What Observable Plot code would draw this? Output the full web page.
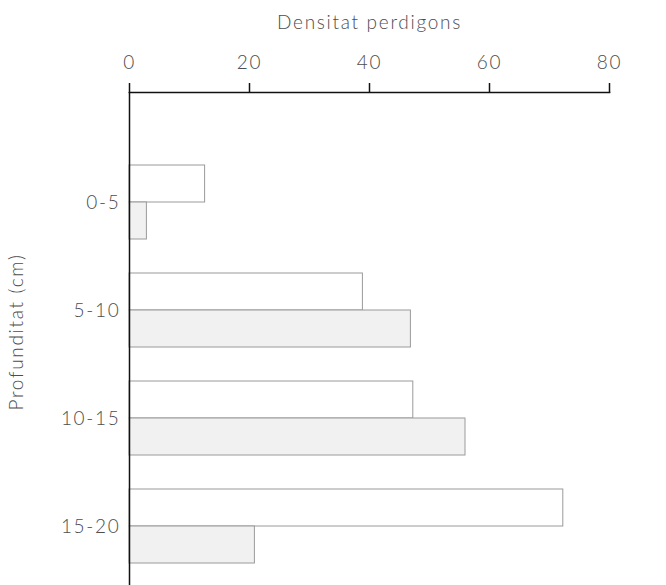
<!DOCTYPE html>
<html>
<head>
<meta charset="utf-8">
<script src="https://cdn.jsdelivr.net/npm/d3@7"></script>
<script src="https://cdn.jsdelivr.net/npm/@observablehq/plot@0.6"></script>
<style>
  html, body { margin: 0; padding: 0; background: #fff; }
  #chart svg { display: block; }
</style>
</head>
<body>
<div id="chart"></div>
<script>
const categories = ["0-5", "5-10", "10-15", "15-20"];
const serieBlanca = [12.6, 38.9, 47.3, 72.3];
const serieGrisa = [2.9, 46.9, 56.0, 20.9];
const xTicks = [0, 20, 40, 60, 80];
const xLabel = "Densitat perdigons";
const yLabel = "Profunditat (cm)";

const dataBlanca = categories.map((c, i) => ({cat: c, v: serieBlanca[i]}));
const dataGrisa = categories.map((c, i) => ({cat: c, v: serieGrisa[i]}));

const chart = Plot.plot({
  width: 666,
  height: 585,
  marginTop: 92,
  marginBottom: 0,
  marginLeft: 129,
  marginRight: 57,
  style: {fontFamily: "Lato, sans-serif", fontSize: "19px", color: "#4d4d4d", background: "#fff", letterSpacing: "1.7px"},
  x: {domain: [0, 80], axis: null},
  y: {domain: categories, range: [164, 563], paddingInner: 0.317, paddingOuter: 0, axis: null},
  marks: [
    Plot.barX(dataBlanca, {y: "cat", x: "v", fill: "white", stroke: "#9a9a9a", strokeWidth: 1, insetBottom: 37}),
    Plot.barX(dataGrisa, {y: "cat", x: "v", fill: "#f1f1f1", stroke: "#9a9a9a", strokeWidth: 1, insetTop: 37}),
    Plot.axisX({anchor: "top", ticks: xTicks, tickSize: 10, tickPadding: 14, fontSize: 19, fontWeight: 300, label: null, stroke: "#111", strokeWidth: 1.5}),
    Plot.axisY({anchor: "left", tickSize: 0, tickPadding: 9, fontSize: 19, fontWeight: 300, label: null}),
    Plot.ruleX([0], {stroke: "#111", strokeWidth: 1.5}),
    Plot.frame({anchor: "top", stroke: "#111", strokeWidth: 1.5}),
    Plot.text([xLabel], {frameAnchor: "top", dy: -70, textAnchor: "middle", lineAnchor: "middle", fontSize: 19, fontWeight: 300}),
    Plot.text([yLabel], {frameAnchor: "left", rotate: -90, dx: -113, dy: -7, textAnchor: "middle", lineAnchor: "middle", fontSize: 19, fontWeight: 300})
  ]
});
document.getElementById("chart").appendChild(chart);
</script>
</body>
</html>
